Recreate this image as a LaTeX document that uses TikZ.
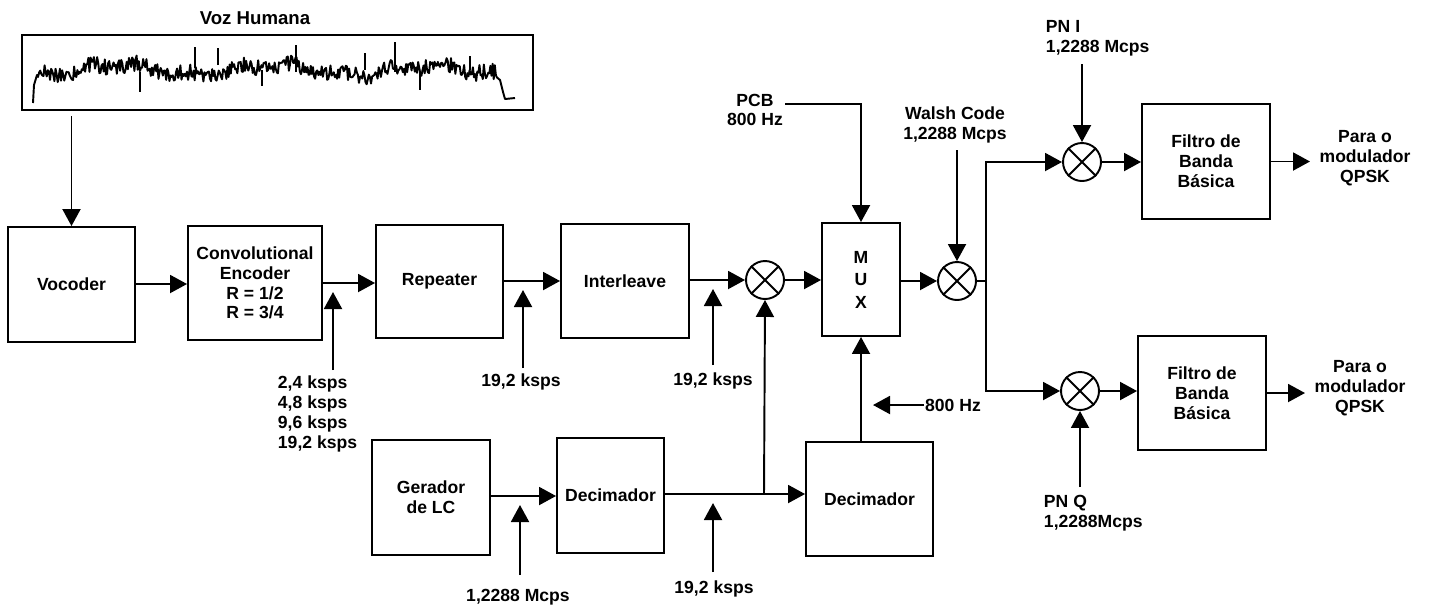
\documentclass[tikz,border=0pt]{standalone}
\usepackage{fontspec}
\setmainfont{Liberation Sans}
\usetikzlibrary{arrows.meta,calc}
\begin{document}
\begin{tikzpicture}[x=0.02cm, y=-0.02cm, line width=1.1pt,
  every node/.style={font=\bfseries\fontsize{10pt}{11.3pt}\selectfont},
  blk/.style={draw, align=center, inner sep=0pt},
  mix/.style={draw, circle, minimum size=0.76cm, inner sep=0pt},
  arr/.style={-{Triangle[length=0.34cm,width=0.36cm]}},
  lbl/.style={align=center, inner sep=0pt}]
\useasboundingbox (0,0) rectangle (1429,610);

% title and waveform
\node[lbl, font=\bfseries\fontsize{10.6pt}{12pt}\selectfont] (title) at (255,18) {Voz Humana};
\node[draw, minimum width=10.22cm, minimum height=1.5cm, inner sep=0pt, line width=1.2pt] (wave) at (277.5,72.5) {};
\pgfmathsetseed{4242}
\draw[line width=1.1pt, line join=round] (33,103) -- (34,85) -- (37,75) -- plot[domain=38:497, samples=420] (\x,{70+8*rand+5*sin(\x*2.3)+3*sin(\x*7.1)}) -- (500,80) -- (503,92) -- (505,99) -- (515,98);
\draw[line width=0.8pt] (140,72)--(140,92) (195,68)--(195,47) (218,65)--(218,48) (296,72)--(296,45) (365,70)--(365,53) (395,72)--(395,42) (470,70)--(470,56) (420,72)--(420,90) (262,70)--(262,86);

% blocks
\node[blk, minimum width=2.54cm, minimum height=2.30cm] (voc) at (71.5,284.5) {Vocoder};
\node[blk, minimum width=2.68cm, minimum height=2.28cm] (conv) at (255,283) {Convolutional\\Encoder\\R = 1/2\\R = 3/4};
\node[blk, minimum width=2.54cm, minimum height=2.26cm] (rep) at (439.5,281.5) {Repeater};
\node[blk, minimum width=2.56cm, minimum height=2.28cm] (int) at (625,281) {Interleave};
\node[blk, minimum width=1.56cm, minimum height=2.26cm, font=\bfseries\fontsize{10pt}{12.8pt}\selectfont] (mux) at (861,279.5) {M\\U\\X};
\node[blk, minimum width=2.56cm, minimum height=2.30cm] (f1) at (1206,161.5) {Filtro de\\Banda\\Básica};
\node[blk, minimum width=2.56cm, minimum height=2.28cm] (f2) at (1202,393) {Filtro de\\Banda\\Básica};
\node[blk, minimum width=2.36cm, minimum height=2.30cm] (ger) at (431,497.5) {Gerador\\de LC};
\node[blk, minimum width=2.14cm, minimum height=2.30cm] (dec1) at (610.5,495.5) {Decimador};
\node[blk, minimum width=2.54cm, minimum height=2.28cm] (dec2) at (869.5,499) {Decimador};

% mixers
\node[mix] (m1) at (765,280) {};
\node[mix] (m2) at (957,281) {};
\node[mix] (m3) at (1082,162) {};
\node[mix] (m4) at (1080,391) {};
\foreach \m in {m1,m2,m3,m4}{
  \draw (\m.45) -- (\m.225) (\m.135) -- (\m.315);
}

% labels
\node[lbl] (pcb) at (755,110) {PCB\\800 Hz};
\node[lbl] (walsh) at (955,125) {Walsh Code\\1,2288 Mcps};
\node[lbl, align=left, anchor=west] (pni) at (1045,38) {PN I\\1,2288 Mcps};
\node[lbl, align=left, anchor=west] (pnq) at (1043,513) {PN Q\\1,2288Mcps};
\node[lbl] (out1) at (1365,158) {Para o\\modulador\\QPSK};
\node[lbl] (out2) at (1360,388) {Para o\\modulador\\QPSK};
\node[lbl, align=left, anchor=west] (r1) at (277,414) {2,4 ksps\\4,8 ksps\\9,6 ksps\\19,2 ksps};
\node[lbl] (r2) at (521,382) {19,2 ksps};
\node[lbl] (r3) at (713,381) {19,2 ksps};
\node[lbl] (r4) at (518,597) {1,2288 Mcps};
\node[lbl] (r5) at (714,589) {19,2 ksps};
\node[lbl] (hz) at (953,405) {800 Hz};

% coordinates
\coordinate (wv) at (71.5,116);
\coordinate (pcbs) at (785,104);
\coordinate (split) at (986,281);
\coordinate (o1) at (1310,161.5);
\coordinate (o2) at (1305,393);
\coordinate (j1) at (764,494);
\coordinate (hzt) at (873,405);
\coordinate (a1s) at (333,370); \coordinate (a1t) at (333,292);
\coordinate (a2s) at (523,368); \coordinate (a2t) at (523,290);
\coordinate (a3s) at (713,365); \coordinate (a3t) at (713,289);
\coordinate (a4s) at (520,575); \coordinate (a4t) at (520,505);
\coordinate (a5s) at (713,572); \coordinate (a5t) at (713,503);
\coordinate (wls) at (957,150);
\coordinate (pnis) at (1082,64);
\coordinate (pnqs) at (1080,487);

% connectors
\draw[arr] (wv) -- (voc.north);
\draw[arr] (voc.east |- 0,284) -- (conv.west |- 0,284);
\draw[arr] (conv.east) -- (conv.east -| rep.west);
\draw[arr] (rep.east |- 0,281) -- (int.west |- 0,281);
\draw[arr] (int.east |- m1) -- (m1.west);
\draw[arr] (m1.east) -- (m1.east -| mux.west);
\draw[arr] (mux.east |- m2) -- (m2.west);
\draw (m2.east) -- (split);
\draw[arr] (split) |- (m3.west);
\draw[arr] (split) |- (m4.west);
\draw[arr] (m3.east) -- (m3.east -| f1.west);
\draw[arr] (m4.east) -- (m4.east -| f2.west);
\draw[arr] (f1.east) -- (o1);
\draw[arr] (f2.east) -- (o2);
\draw[arr] (pcbs) -| (mux.north);
\draw[arr] (wls) -- (m2.north);
\draw[arr] (pnis) -- (m3.north);
\draw[arr] (pnqs) -- (m4.south);
\draw[arr] (mux.south |- dec2.north) -- (mux.south);
\draw[arr] (hz.west) -- (hzt);
\draw[arr] (ger.east |- 0,496) -- (dec1.west |- 0,496);
\draw[arr] (dec1.east |- j1) -- (dec2.west |- j1);
\draw[arr] (j1) -- (m1.south);
\draw[arr] (a1s) -- (a1t);
\draw[arr] (a2s) -- (a2t);
\draw[arr] (a3s) -- (a3t);
\draw[arr] (a4s) -- (a4t);
\draw[arr] (a5s) -- (a5t);
\end{tikzpicture}
\end{document}
